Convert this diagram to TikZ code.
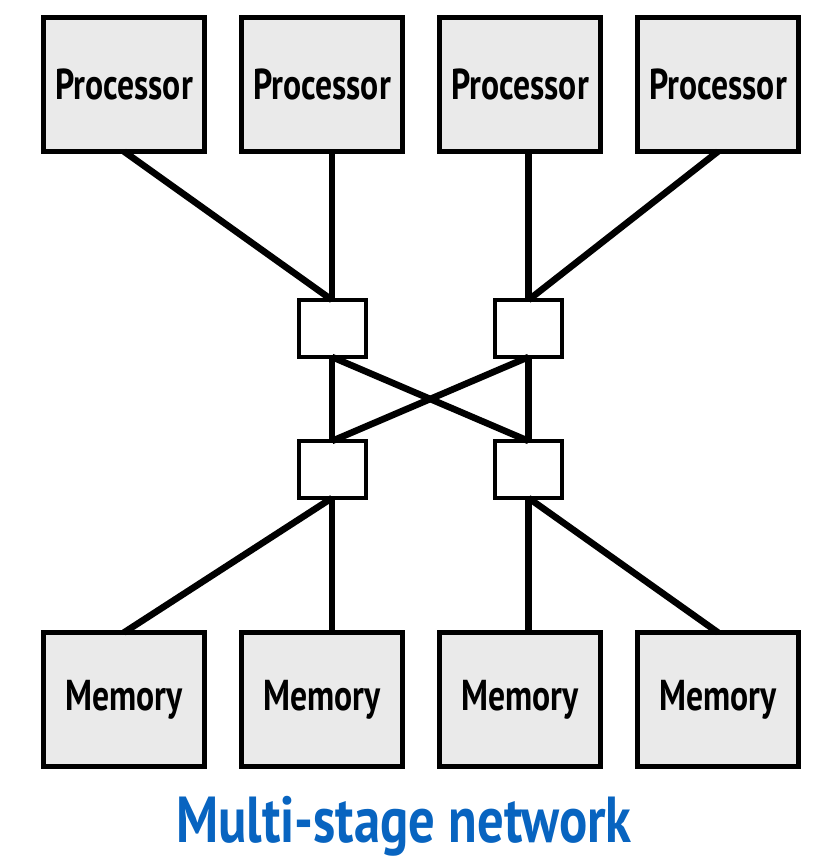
\documentclass[tikz,border=0pt]{standalone}
\usepackage{fontspec}
\setmainfont{PT Sans}
\newfontfamily\labelfont[FakeStretch=0.78]{PT Sans}
\newfontfamily\captionfont[FakeStretch=0.81]{PT Sans}
\usetikzlibrary{positioning}

\definecolor{boxgray}{RGB}{234,234,234}
\definecolor{titleblue}{RGB}{8,100,192}

\begin{document}
\begin{tikzpicture}[outer sep=0,
    unitbox/.style={draw, rectangle, line width=2.5pt, minimum width=80.5pt, minimum height=67pt, inner sep=0, fill=boxgray, font=\labelfont\bfseries\fontsize{21.6}{21.6}\selectfont},
    switchbox/.style={draw, rectangle, line width=2pt, minimum width=33.5pt, minimum height=28.5pt, inner sep=0, fill=white},
    wire/.style={line width=3.3pt}]
        \useasboundingbox (0,0) rectangle (408pt,-428.5pt);
        % processors
        \node [unitbox] (p1) at (62pt,-42.25pt) {Processor};
        \node [unitbox, right = 18.5pt of p1] (p2) {Processor};
        \node [unitbox, right = 18.5pt of p2] (p3) {Processor};
        \node [unitbox, right = 18.5pt of p3] (p4) {Processor};
        % memories
        \node [unitbox, below = 240.5pt of p1] (m1) {Memory};
        \node [unitbox, right = 18.5pt of m1] (m2) {Memory};
        \node [unitbox, right = 18.5pt of m2] (m3) {Memory};
        \node [unitbox, right = 18.5pt of m3] (m4) {Memory};
        % switches
        \node [switchbox, below = 74.25pt of p2, xshift=5pt] (s1) {};
        \node [switchbox, right = 64.75pt of s1] (s2) {};
        \node [switchbox, below = 42pt of s1] (s3) {};
        \node [switchbox, below = 42pt of s2] (s4) {};
        % first stage
        \draw[wire] (p1.south) -- (s1.north);
        \draw[wire] (s1.north |- p2.south) -- (s1.north);
        \draw[wire] (s2.north |- p3.south) -- (s2.north);
        \draw[wire] (p4.south) -- (s2.north);
        % between stages
        \draw[wire] (s1.south) -- (s3.north);
        \draw[wire] (s1.south) -- (s4.north);
        \draw[wire] (s2.south) -- (s3.north);
        \draw[wire] (s2.south) -- (s4.north);
        % second stage
        \draw[wire] (s3.south) -- (m1.north);
        \draw[wire] (s3.south) -- (s3.south |- m2.north);
        \draw[wire] (s4.south) -- (s4.south |- m3.north);
        \draw[wire] (s4.south) -- (m4.north);
        % caption
        \node [anchor=base, inner sep=0, text=titleblue, font=\captionfont\bfseries\fontsize{32.5}{32.5}\selectfont] (title) at (202pt,-421pt) {Multi-stage network};
    \end{tikzpicture}
\end{document}
